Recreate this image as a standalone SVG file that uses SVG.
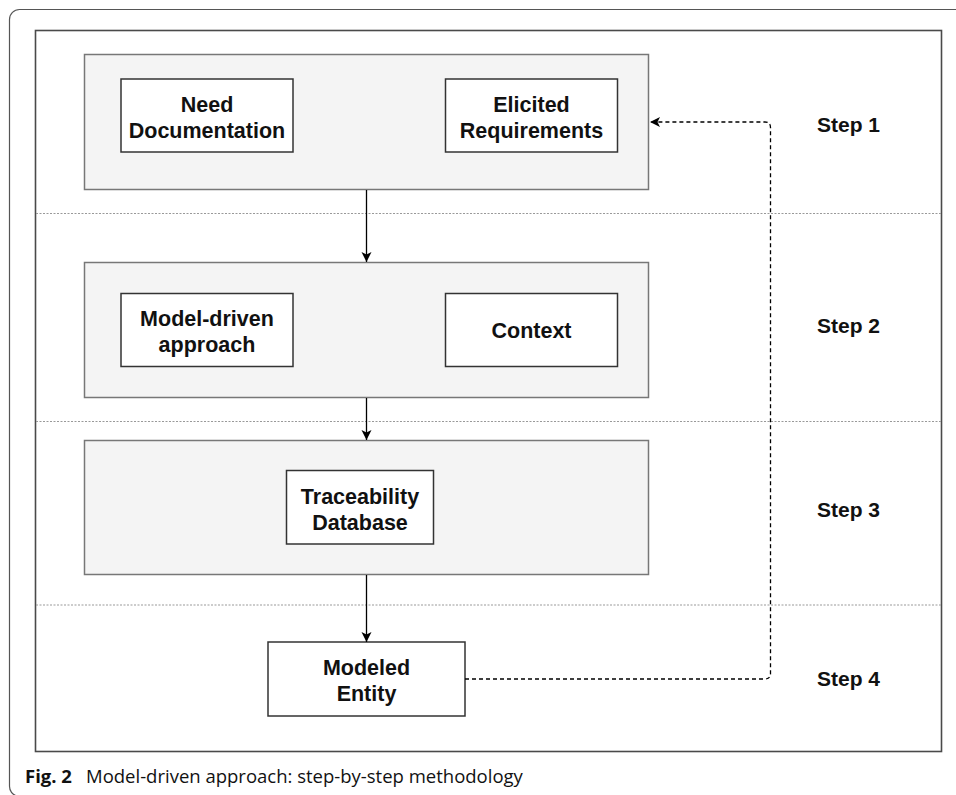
<svg xmlns="http://www.w3.org/2000/svg" width="956" height="795" viewBox="0 0 956 795">
  <style>
    .frame { fill: none; stroke: #4a4a4a; stroke-width: 1.6; }
    .page { fill: none; stroke: #555; stroke-width: 1.2; }
    .sep { stroke: #999; stroke-width: 1; stroke-dasharray: 2 1.5; fill: none; }
    .step { fill: #f4f4f4; stroke: #777; stroke-width: 1.5; }
    .node { fill: #fff; stroke: #333; stroke-width: 1.5; }
    .lbl { font-family: "Liberation Sans", Arial, sans-serif; font-weight: bold; font-size: 21.5px; fill: #111; text-anchor: middle; }
    .steplbl { font-family: "Liberation Sans", Arial, sans-serif; font-weight: bold; font-size: 21px; fill: #111; text-anchor: middle; }
    .edge { fill: none; stroke: #000; stroke-width: 1.3; }
    .dash { stroke-dasharray: 4 3; }
    .cap { font-family: "Open Sans", "Noto Sans", sans-serif; font-size: 18.5px; fill: #111; }
  </style>
  <defs>
    <marker id="arrow" viewBox="0 0 10 11" refX="10" refY="5.5" markerWidth="10" markerHeight="11" markerUnits="userSpaceOnUse" orient="auto">
      <path d="M0,0.5 L10,5.5 L0,10.5 L2.5,5.5 Z" fill="#000"/>
    </marker>
  </defs>

  <rect width="956" height="795" fill="#fff"/>

  <!-- page border -->
  <path class="page" d="M956 9.5 H19.5 A10 10 0 0 0 9.5 19.5 V786 A10 10 0 0 0 17 796"/>

  <!-- diagram frame -->
  <rect class="frame" x="35.5" y="30.5" width="906" height="721"/>

  <!-- step separators -->
  <g id="separators">
    <line class="sep" x1="36" y1="213.5" x2="941" y2="213.5"/>
    <line class="sep" x1="36" y1="421.5" x2="941" y2="421.5"/>
    <line class="sep" x1="36" y1="605" x2="941" y2="605"/>
  </g>

  <!-- step containers -->
  <g id="step1-box"><rect class="step" x="84.5" y="54.5" width="564" height="135"/></g>
  <g id="step2-box"><rect class="step" x="84.5" y="262.5" width="564" height="135"/></g>
  <g id="step3-box"><rect class="step" x="84.5" y="440.5" width="564" height="134"/></g>

  <!-- nodes -->
  <g id="need-documentation">
    <rect class="node" x="121" y="79" width="172" height="73"/>
    <text class="lbl" x="207" y="111.5">Need</text>
    <text class="lbl" x="207" y="137.5">Documentation</text>
  </g>
  <g id="elicited-requirements">
    <rect class="node" x="445.5" y="79" width="172" height="73"/>
    <text class="lbl" x="531.5" y="111.5">Elicited</text>
    <text class="lbl" x="531.5" y="137.5">Requirements</text>
  </g>
  <g id="model-driven-approach">
    <rect class="node" x="121" y="293.5" width="172" height="73"/>
    <text class="lbl" x="207" y="326">Model-driven</text>
    <text class="lbl" x="207" y="352">approach</text>
  </g>
  <g id="context">
    <rect class="node" x="445.5" y="293.5" width="172" height="73"/>
    <text class="lbl" x="531.5" y="338">Context</text>
  </g>
  <g id="traceability-database">
    <rect class="node" x="286.5" y="470.5" width="147" height="73.5"/>
    <text class="lbl" x="360" y="503.5">Traceability</text>
    <text class="lbl" x="360" y="529.5">Database</text>
  </g>
  <g id="modeled-entity">
    <rect class="node" x="268" y="642" width="197" height="74"/>
    <text class="lbl" x="366.5" y="675">Modeled</text>
    <text class="lbl" x="366.5" y="701">Entity</text>
  </g>

  <!-- step labels -->
  <g id="step-labels">
    <text class="steplbl" x="848.5" y="131.5">Step 1</text>
    <text class="steplbl" x="848.5" y="333">Step 2</text>
    <text class="steplbl" x="848.5" y="516.5">Step 3</text>
    <text class="steplbl" x="848.5" y="686">Step 4</text>
  </g>

  <!-- connectors -->
  <g id="connectors">
    <line class="edge" x1="366.5" y1="190" x2="366.5" y2="262" marker-end="url(#arrow)"/>
    <line class="edge" x1="366.5" y1="398" x2="366.5" y2="440" marker-end="url(#arrow)"/>
    <line class="edge" x1="366.5" y1="575" x2="366.5" y2="642" marker-end="url(#arrow)"/>
    <path class="edge dash" d="M465 679 H765 Q770.5 679 770.5 673.5 V127.5 Q770.5 122 765 122 H650" marker-end="url(#arrow)"/>
  </g>

  <!-- caption -->
  <text class="cap" x="25" y="782.5"><tspan font-weight="bold">Fig. 2</tspan></text>
  <text class="cap" x="86" y="782.5">Model-driven approach: step-by-step methodology</text>
</svg>
